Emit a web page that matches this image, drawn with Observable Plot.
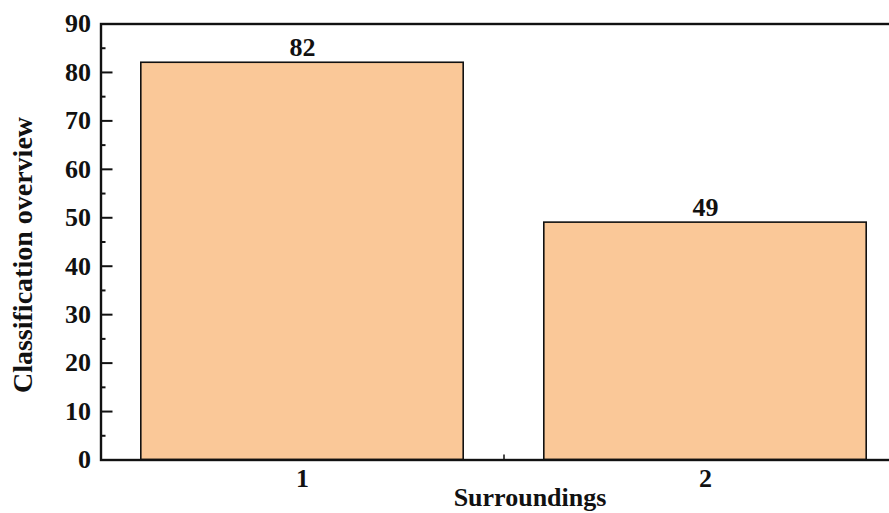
<!DOCTYPE html>
<html><head><meta charset="utf-8">
<script src="https://cdn.jsdelivr.net/npm/d3@7"></script>
<script src="https://cdn.jsdelivr.net/npm/@observablehq/plot@0.6"></script>
<style>body{margin:0;overflow:hidden;background:#fff} svg{max-width:none !important}</style>
</head><body><div id="chart"></div>
<script>
const categories = [1, 2];
const values = [82, 49];
const yMajorTicks = [0,10,20,30,40,50,60,70,80,90];
const yMinorTicks = [5,15,25,35,45,55,65,75,85];
const xLabels = [1, 2];
const xMinorTicks = [1.5];
const data = categories.map((c, i) => ({cat: c, value: values[i]}));
const font = "'Liberation Serif', 'Times New Roman', serif";
const chart = Plot.plot({
  width: 920, height: 513,
  marginLeft: 100.5, marginRight: 13.5, marginTop: 23.5, marginBottom: 53.5,
  style: {fontFamily: font, fontWeight: "bold", fontSize: "26px", color: "#111", background: "#fff", maxWidth: "none"},
  x: {domain: [0.5, 2.5]},
  y: {domain: [0, 90]},
  marks: [
    Plot.rectY(data, {x1: d => d.cat - 0.4, x2: d => d.cat + 0.4, y: "value", fill: "#FAC898", stroke: "#111", strokeWidth: 1.6}),
    Plot.text(data, {x: "cat", y: "value", text: d => String(d.value), lineAnchor: "bottom", dy: -7, fill: "#111", fontSize: 26}),
    Plot.axisY(yMajorTicks, {tickSize: 0, tickPadding: 10, label: null, fontSize: 26, tickFormat: d => String(d)}),
    Plot.axisY(yMajorTicks, {tickSize: -12, text: null, label: null, strokeWidth: 2}),
    Plot.axisY(yMinorTicks, {tickSize: -5, text: null, label: null, strokeWidth: 2}),
    Plot.axisX(xLabels, {tickSize: 0, tickPadding: 9, label: null, fontSize: 26, tickFormat: d => String(d)}),
    Plot.axisX(xMinorTicks, {tickSize: -5, text: null, label: null, strokeWidth: 1.5}),
    Plot.frame({stroke: "#111", strokeWidth: 2.4}),
    Plot.text(["Surroundings"], {frameAnchor: "bottom", textAnchor: "middle", lineAnchor: "middle", dx: 26, dy: 37.5, fontSize: 26, fill: "#111"}),
    Plot.text(["Classification overview"], {frameAnchor: "left", textAnchor: "middle", lineAnchor: "middle", dx: -77.5, dy: 13, rotate: -90, fontSize: 28, fill: "#111"})
  ]
});
document.getElementById("chart").append(chart);
</script></body></html>
